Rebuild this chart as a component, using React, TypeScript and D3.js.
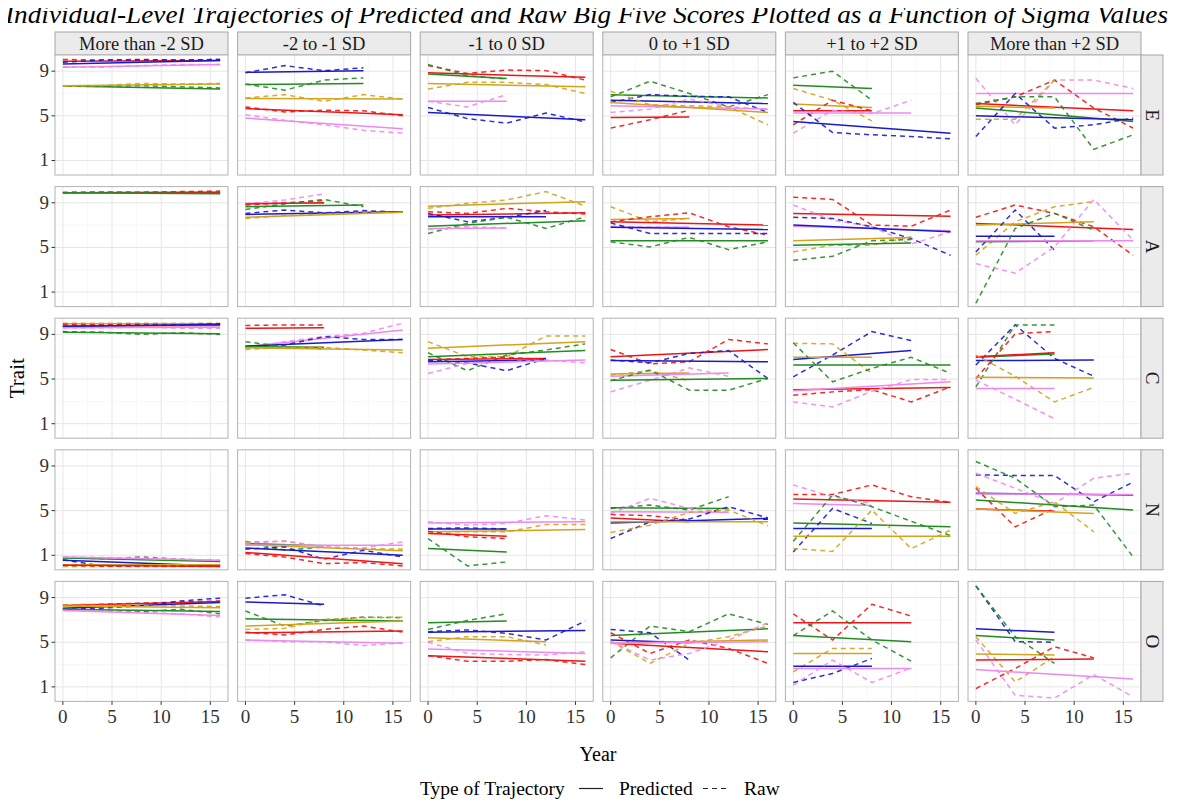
import * as d3 from "d3";

// facet labels
const sigmaGroups = [
  "More than -2 SD",
  "-2 to -1 SD",
  "-1 to 0 SD",
  "0 to +1 SD",
  "+1 to +2 SD",
  "More than +2 SD",
];
const traitNames = ["E", "A", "C", "N", "O"];

const yTicks = [1, 5, 9];
const yMinor = [3, 7];
const xTicks = [0, 5, 10, 15];
const xMinor = [2.5, 7.5, 12.5];
const waveYears = [0, 4, 8, 12, 16];

const lineColors: Record<string, string> = {
  r: "#f01414",
  b: "#1a1acd",
  g: "#228b22",
  y: "#d2a31c",
  p: "#ee88ee",
};

// [colour, raw scores at each wave, predicted start, predicted end]
type Traj = [string, number[], number, number];

const trajE: Traj[][] = [
  [
    ["p", [9.4, 9.35, 9.5, 9.6, 9.6], 9.35, 9.6],
    ["g", [7.65, 7.65, 7.7, 7.6, 7.5], 7.67, 7.4],
    ["y", [7.65, 7.7, 7.9, 7.85, 7.9], 7.7, 7.85],
    ["r", [10.05, 10.0, 10.05, 10.0, 10.05], 9.9, 9.95],
    ["b", [9.8, 10.0, 10.0, 10.0, 10.05], 9.65, 9.95],
  ],
  [
    ["b", [8.85, 9.5, 9.05, 9.3], 8.9, 9.05],
    ["g", [7.85, 7.3, 8.2, 8.4], 7.8, 7.9],
    ["y", [6.6, 6.9, 6.3, 6.9, 6.5], 6.55, 6.5],
    ["r", [5.8, 5.35, 5.5, 5.45, 5.0], 5.65, 5.1],
    ["p", [5.1, 4.6, 4.2, 3.7, 3.45], 4.8, 3.85],
  ],
  [
    ["r", [9.5, 8.8, 9.1, 9.05, 8.2], 8.85, 8.45],
    ["g", [9.6, 8.6, 8.3], 8.75, 8.35],
    ["y", [7.4, 8.0, 8.0, 7.8, 7.0], 7.9, 7.6],
    ["p", [6.3, 5.8, 6.9], 6.3, 6.3],
    ["b", [5.75, 4.75, 4.35, 5.25, 4.45], 5.3, 4.65],
  ],
  [
    ["g", [6.7, 8.1, 7.0, 5.8, 6.9], 6.9, 6.6],
    ["b", [6.2, 6.9, 6.75, 6.7, 5.3], 6.4, 6.1],
    ["p", [5.3, 5.6, 6.5, 5.8, 5.6], 5.9, 5.6],
    ["y", [7.2, 6.0, 5.9, 5.8, 4.2], 6.2, 5.3],
    ["r", [3.9, 4.65, 5.5], 4.85, 4.9],
  ],
  [
    ["g", [8.4, 9.0, 6.4], 7.75, 7.45],
    ["y", [7.45, 6.4, 4.55], 6.05, 5.75],
    ["r", [4.2, 6.4, 5.45], 5.45, 5.45],
    ["p", [3.45, 5.5, 5.2, 6.4], 5.25, 5.25],
    ["b", [6.2, 3.5, 3.3, 3.15, 2.95], 4.5, 3.45],
  ],
  [
    ["p", [8.35, 4.2, 8.2, 8.2, 7.45], 7.0, 7.0],
    ["r", [6.0, 6.7, 8.2, 5.7, 3.9], 6.1, 5.45],
    ["y", [4.7, 4.7, 8.2], 5.85, 5.7],
    ["g", [6.1, 6.7, 6.7, 2.0, 3.3], 5.7, 4.5],
    ["b", [3.15, 7.0, 3.9, 4.2, 4.8], 5.0, 4.65],
  ],
];

const trajA: Traj[][] = [
  [
    ["p", [9.9, 9.95, 9.95, 9.95, 9.95], 9.9, 9.95],
    ["r", [9.9, 9.95, 9.95, 10.0, 10.05], 9.9, 9.95],
    ["g", [9.95, 9.95, 9.9, 9.85, 9.85], 9.9, 9.8],
  ],
  [
    ["p", [8.9, 9.25, 9.8], 8.95, 8.95],
    ["r", [8.8, 9.0, 9.2], 8.9, 9.0],
    ["g", [8.4, 8.9, 9.3, 8.65], 8.65, 8.8],
    ["b", [8.05, 8.35, 8.1, 8.3, 8.15], 7.95, 8.2],
    ["y", [7.6, 7.85, 8.0, 8.1, 8.15], 7.7, 8.15],
  ],
  [
    ["y", [8.5, 8.95, 9.25, 10.0, 8.7], 8.7, 9.1],
    ["r", [8.2, 8.05, 8.5, 8.2, 8.0], 7.9, 8.1],
    ["b", [8.05, 7.3, 7.7, 8.3], 7.75, 7.75],
    ["g", [6.25, 7.15, 7.7, 6.7, 7.75], 6.9, 7.4],
    ["p", [6.6, 6.85, 6.75], 6.7, 6.75],
  ],
  [
    ["y", [8.65, 7.3, 7.6], 7.5, 7.6],
    ["r", [7.3, 7.75, 8.1, 6.85, 6.1], 7.3, 7.0],
    ["p", [6.9, 6.85, 6.8], 6.8, 6.8],
    ["b", [7.2, 6.25, 6.25, 6.25, 6.25], 6.8, 6.6],
    ["g", [5.5, 5.05, 5.9, 4.8, 5.5], 5.6, 5.6],
  ],
  [
    ["r", [9.5, 9.3, 7.0, 6.9, 8.35], 8.05, 7.8],
    ["p", [8.8, 7.45, 6.85, 5.3, 6.4], 6.9, 6.5],
    ["b", [7.7, 7.6, 6.85, 5.8, 4.3], 7.0, 6.4],
    ["y", [4.6, 5.2, 5.2, 5.95], 5.6, 5.9],
    ["g", [3.85, 4.2, 5.6, 5.7], 5.2, 5.4],
  ],
  [
    ["r", [7.7, 8.8, 8.05, 6.85, 4.3], 7.15, 6.6],
    ["y", [4.3, 7.3, 8.65, 9.1], 7.0, 7.3],
    ["b", [4.6, 8.35, 4.75], 6.0, 6.0],
    ["g", [0.0, 6.7, 8.05, 6.55], 5.5, 5.6],
    ["p", [3.55, 2.7, 5.05, 9.3, 5.65], 5.6, 5.6],
  ],
];

const trajC: Traj[][] = [
  [
    ["y", [10.0, 10.0, 10.0, 10.0, 10.0], 9.95, 9.95],
    ["r", [9.9, 9.85, 9.9, 9.85, 9.9], 9.75, 9.8],
    ["b", [9.7, 9.8, 9.8, 9.85, 9.95], 9.7, 9.9],
    ["p", [9.6, 9.6, 9.65, 9.55, 9.55], 9.6, 9.65],
    ["g", [9.25, 9.2, 9.0, 9.15, 9.0], 9.2, 9.05],
  ],
  [
    ["r", [9.8, 9.85, 9.85], 9.55, 9.6],
    ["p", [7.75, 8.35, 8.8, 9.1, 10.0], 7.9, 9.4],
    ["b", [7.9, 8.05, 8.8, 8.55, 8.55], 7.95, 8.55],
    ["g", [8.35, 7.9, 7.7], 7.9, 7.85],
    ["y", [7.65, 7.85, 7.85, 7.6, 7.35], 7.8, 7.6],
  ],
  [
    ["y", [8.35, 7.0, 7.0, 8.85, 8.85], 7.75, 8.35],
    ["g", [7.35, 5.75, 7.15, 7.6, 8.15], 7.0, 7.55],
    ["r", [6.7, 6.85, 6.95, 6.75], 6.75, 6.85],
    ["b", [6.7, 6.45, 5.75, 6.85], 6.55, 6.7],
    ["p", [5.5, 6.4, 6.55, 6.7, 6.45], 6.35, 6.7],
  ],
  [
    ["r", [7.65, 6.35, 6.55, 8.55, 8.15], 7.0, 7.65],
    ["b", [6.7, 6.45, 7.3, 7.55, 5.05], 6.65, 6.55],
    ["y", [5.35, 5.75, 4.85], 5.45, 5.55],
    ["p", [3.85, 4.9, 6.0, 5.25], 5.25, 5.55],
    ["g", [4.85, 5.8, 4.0, 4.0, 5.05], 4.9, 5.05],
  ],
  [
    ["b", [5.2, 7.15, 9.25, 8.45], 6.75, 7.55],
    ["y", [8.2, 8.15, 5.5], 6.95, 6.95],
    ["g", [8.25, 4.75, 5.95, 6.95, 5.5], 6.25, 6.25],
    ["r", [3.55, 3.85, 4.05, 2.95, 4.3], 4.05, 4.25],
    ["p", [2.95, 2.5, 3.9, 4.95, 4.95], 3.95, 4.75],
  ],
  [
    ["b", [6.25, 9.85, 6.85, 5.25], 6.65, 6.7],
    ["g", [4.3, 9.85, 9.85], 6.95, 7.25],
    ["r", [5.05, 9.05, 9.25], 7.0, 7.35],
    ["y", [7.15, 5.25, 2.95, 4.25], 5.15, 5.1],
    ["p", [4.9, 3.2, 1.45], 4.15, 4.15],
  ],
];

const trajN: Traj[][] = [
  [
    ["g", [0.8, 0.7, 0.85, 0.65, 0.5], 0.75, 0.45],
    ["p", [0.85, 0.8, 0.75, 0.65, 0.55], 0.85, 0.55],
    ["b", [0.6, 0.05, 0.05, 0.1, 0.15], 0.55, 0.05],
    ["y", [0.0, 0.0, 0.0, 0.0, 0.0], 0.15, 0.15],
    ["r", [0.1, 0.05, 0.05, 0.05, 0.05], 0.1, 0.0],
  ],
  [
    ["g", [2.25, 1.45, 1.75], 2.05, 1.85],
    ["y", [2.2, 2.25, 1.75, 1.6, 1.55], 1.95, 1.4],
    ["p", [2.05, 2.3, 1.75, 1.65, 2.2], 1.9, 1.9],
    ["b", [1.55, 1.75, 0.65, 1.45, 0.85], 1.65, 1.0],
    ["r", [1.15, 0.85, 0.25, 0.35, 0.05], 1.25, 0.25],
  ],
  [
    ["p", [4.0, 3.7, 3.85, 4.55, 4.15], 3.9, 4.0],
    ["y", [3.1, 3.1, 3.1, 3.75, 3.75], 3.1, 3.3],
    ["b", [3.4, 3.45, 3.35], 3.35, 3.35],
    ["r", [3.15, 2.65, 2.5], 2.95, 2.7],
    ["g", [2.5, 0.05, 0.4], 1.6, 1.3],
  ],
  [
    ["g", [5.2, 5.5, 5.05, 6.25], 5.25, 5.2],
    ["p", [4.75, 6.1, 5.2, 4.85], 4.9, 4.85],
    ["r", [4.65, 4.55, 4.15], 4.35, 4.0],
    ["b", [2.5, 4.0, 4.25, 5.35, 4.35], 3.9, 4.3],
    ["y", [3.05, 3.7, 4.85, 5.05, 3.65], 4.0, 4.0],
  ],
  [
    ["r", [6.45, 6.45, 7.3, 6.25, 5.75], 6.05, 5.75],
    ["p", [7.3, 6.25, 5.65], 5.65, 5.45],
    ["g", [2.25, 6.4, 5.35, 4.05, 2.75], 3.9, 3.55],
    ["b", [1.3, 5.2, 3.85], 3.4, 3.4],
    ["y", [1.6, 1.35, 5.05, 1.6, 3.25], 2.7, 2.7],
  ],
  [
    ["g", [9.4, 7.9, 5.35, 5.5, 0.85], 5.95, 5.05],
    ["b", [8.2, 8.15, 8.15, 5.8, 7.55], 6.55, 6.4],
    ["p", [8.35, 7.0, 5.65, 7.9, 8.35], 6.5, 6.45],
    ["r", [7.0, 3.55, 5.2], 5.15, 4.95],
    ["y", [7.15, 4.75, 5.8, 3.1], 5.15, 4.75],
  ],
];

const trajO: Traj[][] = [
  [
    ["r", [8.35, 8.4, 8.5, 8.6, 8.7], 8.3, 8.65],
    ["b", [7.95, 8.05, 8.25, 8.7, 8.95], 8.05, 8.55],
    ["y", [8.35, 8.3, 8.3, 8.25, 8.2], 8.25, 8.1],
    ["g", [7.95, 7.85, 7.75, 7.95, 7.55], 7.95, 7.75],
    ["p", [7.85, 7.8, 7.65, 7.55, 7.25], 7.85, 7.4],
  ],
  [
    ["b", [8.95, 9.25, 8.25], 8.6, 8.4],
    ["g", [7.8, 6.45, 6.95, 7.25, 7.2], 7.1, 6.9],
    ["y", [6.15, 6.25, 7.05, 7.2, 7.25], 6.45, 6.9],
    ["r", [5.9, 5.65, 6.15, 6.45, 5.9], 5.85, 6.0],
    ["p", [5.2, 5.05, 5.05, 4.7, 4.95], 5.2, 4.9],
  ],
  [
    ["g", [6.15, 6.95, 7.55], 6.75, 6.9],
    ["b", [5.95, 6.1, 5.8, 5.2, 6.9], 5.9, 6.05],
    ["y", [5.05, 5.5, 5.5, 4.75], 5.4, 5.05],
    ["p", [5.0, 4.0, 3.9, 3.85, 4.15], 4.4, 4.0],
    ["r", [3.8, 3.3, 3.3, 3.45, 3.0], 3.8, 3.3],
  ],
  [
    ["g", [3.6, 6.45, 5.95, 7.55, 6.6], 5.6, 6.2],
    ["b", [6.15, 5.85, 3.4], 5.2, 4.95],
    ["r", [5.85, 4.0, 5.2, 4.45, 3.1], 4.9, 4.15],
    ["y", [5.1, 3.1, 4.9, 5.5, 6.45], 4.9, 5.2],
    ["p", [5.1, 3.4, 4.0, 5.2, 6.75], 4.9, 5.05],
  ],
  [
    ["r", [7.55, 5.2, 8.4, 7.35], 6.75, 6.75],
    ["g", [5.6, 7.8, 5.2, 3.3], 5.6, 5.05],
    ["y", [2.35, 4.45, 4.45], 4.0, 4.0],
    ["b", [1.4, 2.2, 3.55], 2.85, 2.85],
    ["p", [1.15, 3.4, 1.4, 2.7], 2.65, 2.65],
  ],
  [
    ["b", [10.05, 5.05, 5.0], 6.2, 5.9],
    ["g", [10.05, 5.5, 3.1], 5.6, 5.2],
    ["y", [5.5, 1.45, 3.7], 3.95, 3.85],
    ["r", [0.85, 2.65, 4.6, 3.6], 3.4, 3.5],
    ["p", [5.2, 0.25, 0.0, 2.1, 0.1], 2.55, 1.7],
  ],
];

const traitRows = [trajE, trajA, trajC, trajN, trajO];

// layout
const width = 1180;
const height = 808;
const panelLeft = 55;
const panelTop = 55;
const panelW = 173;
const panelH = 120;
const colStep = 182.6;
const rowStep = 131.6;
const stripH = 23;
const stripW = 22;
const serif = "'Liberation Serif', 'Times New Roman', serif";

const x = d3.scaleLinear().domain([-0.8, 16.8]).range([0, panelW]);
const y = d3.scaleLinear().domain([-0.3, 10.45]).range([panelH, 0]);
const line = d3
  .line<[number, number]>()
  .x((d) => x(d[0]))
  .y((d) => y(d[1]));

function Panel({ trajs }: { trajs: Traj[] }) {
  return (
    <g>
      <rect width={panelW} height={panelH} fill="#fff" />
      {yMinor.map((v) => (
        <line key={"ym" + v} x1={0} x2={panelW} y1={y(v)} y2={y(v)} stroke="#f3f3f3" strokeWidth={0.6} />
      ))}
      {xMinor.map((v) => (
        <line key={"xm" + v} x1={x(v)} x2={x(v)} y1={0} y2={panelH} stroke="#f3f3f3" strokeWidth={0.6} />
      ))}
      {yTicks.map((v) => (
        <line key={"y" + v} x1={0} x2={panelW} y1={y(v)} y2={y(v)} stroke="#e6e6e6" strokeWidth={1} />
      ))}
      {xTicks.map((v) => (
        <line key={"x" + v} x1={x(v)} x2={x(v)} y1={0} y2={panelH} stroke="#e6e6e6" strokeWidth={1} />
      ))}
      {trajs.map(([c, raw, p0, p1], i) => {
        const lastYear = waveYears[raw.length - 1];
        const rawPts = raw.map((v, j) => [waveYears[j], v] as [number, number]);
        return (
          <g key={i}>
            <path
              d={line([[0, p0], [lastYear, p1]]) ?? ""}
              fill="none"
              stroke={lineColors[c]}
              strokeWidth={1.5}
            />
            <path
              d={line(rawPts) ?? ""}
              fill="none"
              stroke={lineColors[c]}
              strokeWidth={1.5}
              strokeDasharray="5 4"
              opacity={0.9}
            />
          </g>
        );
      })}
      <rect width={panelW} height={panelH} fill="none" stroke="#b3b3b3" strokeWidth={1} />
    </g>
  );
}

export default function App() {
  const lastColRight = panelLeft + 5 * colStep + panelW;
  const bottom = panelTop + 4 * rowStep + panelH;
  const centerX = (panelLeft + lastColRight) / 2;
  const centerY = (panelTop + bottom) / 2;

  return (
    <svg width={width} height={height} style={{ display: "block", margin: -8 }} fontFamily={serif}>
      <rect width={width} height={height} fill="#fff" />
      <text
        x={5}
        y={23}
        fontSize={25}
        fontStyle="italic"
        fill="#000"
        textLength={1163}
        lengthAdjust="spacingAndGlyphs"
      >
        Individual-Level Trajectories of Predicted and Raw Big Five Scores Plotted as a Function of Sigma Values
      </text>

      {sigmaGroups.map((s, ci) => {
        const gx = panelLeft + ci * colStep;
        return (
          <g key={s} transform={`translate(${gx},${panelTop - stripH})`}>
            <rect width={panelW} height={stripH} fill="#ebebeb" stroke="#a6a6a6" strokeWidth={1} />
            <text x={panelW / 2} y={stripH / 2 + 6.5} textAnchor="middle" fontSize={18.5} fill="#1a1a1a">
              {s}
            </text>
          </g>
        );
      })}

      {traitRows.map((row, ri) => {
        const gy = panelTop + ri * rowStep;
        return (
          <g key={traitNames[ri]}>
            {row.map((trajs, ci) => (
              <g key={ci} transform={`translate(${panelLeft + ci * colStep},${gy})`}>
                <Panel trajs={trajs} />
              </g>
            ))}
            <g transform={`translate(${lastColRight},${gy})`}>
              <rect width={stripW} height={panelH} fill="#ebebeb" stroke="#a6a6a6" strokeWidth={1} />
              <text
                transform={`translate(${stripW / 2 - 6.5},${panelH / 2}) rotate(90)`}
                textAnchor="middle"
                fontSize={19}
                fill="#1a1a1a"
              >
                {traitNames[ri]}
              </text>
            </g>
            {/* y axis */}
            <g transform={`translate(${panelLeft},${gy})`}>
              {yTicks.map((v) => (
                <g key={v}>
                  <line x1={-3.5} x2={0} y1={y(v)} y2={y(v)} stroke="#333" />
                  <text x={-6} y={y(v) + 6} textAnchor="end" fontSize={19} fill="#333">
                    {v}
                  </text>
                </g>
              ))}
            </g>
          </g>
        );
      })}

      {sigmaGroups.map((s, ci) => (
        <g key={"xa" + s} transform={`translate(${panelLeft + ci * colStep},${bottom})`}>
          {xTicks.map((v) => (
            <g key={v}>
              <line x1={x(v)} x2={x(v)} y1={0} y2={3.5} stroke="#333" />
              <text x={x(v)} y={22} textAnchor="middle" fontSize={19} fill="#333">
                {v}
              </text>
            </g>
          ))}
        </g>
      ))}

      <text x={centerX} y={761} textAnchor="middle" fontSize={20} fill="#000">
        Year
      </text>
      <text
        transform={`translate(24,${centerY}) rotate(-90)`}
        textAnchor="middle"
        fontSize={21}
        fill="#000"
      >
        Trait
      </text>

      {/* legend */}
      <g transform="translate(0,795)">
        <text x={420} y={0} fontSize={19.5} fill="#000">
          Type of Trajectory
        </text>
        <line x1={579} x2={603} y1={-6.5} y2={-6.5} stroke="#222" strokeWidth={1.2} />
        <text x={619} y={0} fontSize={19.5} fill="#000">
          Predicted
        </text>
        <line x1={703} x2={730} y1={-6.5} y2={-6.5} stroke="#222" strokeWidth={1.2} strokeDasharray="5 4" />
        <text x={744} y={0} fontSize={19.5} fill="#000">
          Raw
        </text>
      </g>
    </svg>
  );
}
